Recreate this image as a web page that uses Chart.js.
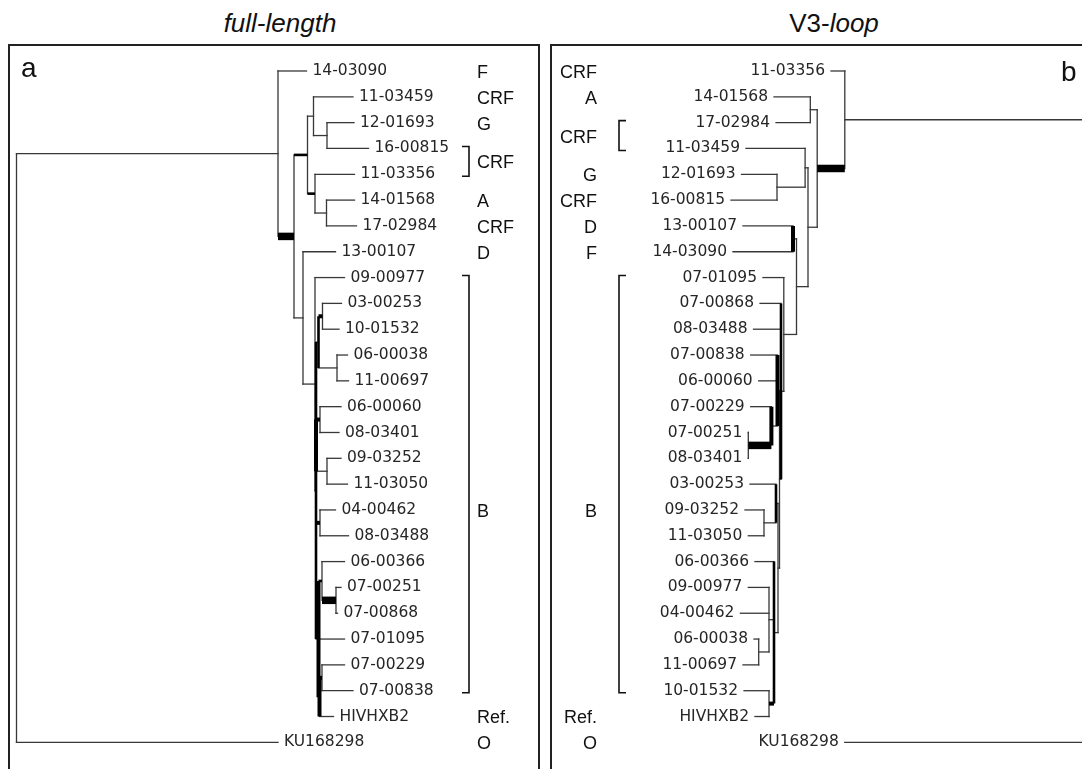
<!DOCTYPE html>
<html>
<head>
<meta charset="utf-8">
<title>full-length / V3-loop trees</title>
<script src="https://cdn.jsdelivr.net/npm/chart.js@4.4.1/dist/chart.umd.min.js"></script>
<style>
  html, body { margin: 0; padding: 0; background: #fff; overflow: hidden; }
  #stage { position: relative; width: 1082px; height: 769px; overflow: hidden; }
  .title { position: absolute; top: 10px; width: 300px; text-align: center; color: #111;
           font: 26px "Liberation Sans", Arial, sans-serif; line-height: 26px; }
  .letter { position: absolute; color: #111; font: 28px "Liberation Sans", Arial, sans-serif; line-height: 28px; }
  .panel { position: absolute; top: 44px; height: 740px; border: 2px solid #222; }
  #panelA { left: 8px; width: 528px; }
  #panelB { left: 550px; width: 566px; }
  .panel canvas { position: absolute; left: 0; top: 0; }
</style>
</head>
<body>
<div id="stage">
  <div class="title" style="left:130px"><i>full-length</i></div>
  <div class="title" style="left:684px">V3-<i>loop</i></div>
  <div class="panel" id="panelA"><canvas id="treeA" width="528" height="740"></canvas></div>
  <div class="panel" id="panelB"><canvas id="treeB" width="566" height="740"></canvas></div>
  <div class="letter" style="left:21px; top:54px">a</div>
  <div class="letter" style="left:1061px; top:58px">b</div>
</div>
<script>
// ---- full-length tree (panel a) ----
// leaves top to bottom, tip depth = distance from root
const fullLeaves = ['14-03090', '11-03459', '12-01693', '16-00815', '11-03356', '14-01568', '17-02984',
  '13-00107', '09-00977', '03-00253', '10-01532', '06-00038', '11-00697', '06-00060', '08-03401',
  '09-03252', '11-03050', '04-00462', '08-03488', '06-00366', '07-00251', '07-00868', '07-01095',
  '07-00229', '07-00838', 'HIVHXB2', 'KU168298'];
const fullTips = [290, 336.5, 337.5, 352, 338, 338, 340,
  319, 328, 325, 322.5, 331, 332, 324.5, 322.5,
  324.5, 331, 319, 332, 328, 324.5, 321, 328,
  328, 336.5, 317, 261.5];
// internal nodes: [depth, children (leaf name or node index), branch support level, connector support level]
const fullNodes = [
  [0, [1, 'KU168298']],
  [261.5, ['14-03090', 2]],
  [277.5, [3, 8], 3],
  [291, [4, 6], 1],
  [297, ['11-03459', 5]],
  [310.5, ['12-01693', '16-00815']],
  [298.5, ['11-03356', 7], 1],
  [310, ['14-01568', '17-02984']],
  [286.5, ['13-00107', 9]],
  [298.5, ['09-00977', 10]],
  [299.5, [11, 14, 17, 18], 0, 1],
  [302, [12, 13], 0, 1],
  [306, ['03-00253', '10-01532'], 2],
  [320.5, ['06-00038', '11-00697']],
  [299.5, [15, 16], 0, 2],
  [303.5, ['06-00060', '08-03401'], 2],
  [310.5, ['09-03252', '11-03050']],
  [303.5, ['04-00462', '08-03488'], 2],
  [302, [19, '07-01095', 21], 0, 2],
  [305.5, ['06-00366', 20], 1],
  [319.5, ['07-00251', '07-00868'], 3],
  [303, [22, 'HIVHXB2'], 0, 2],
  [305.5, ['07-00229', '07-00838'], 2],
];
const fullSubtypes = ['F', 'CRF', 'G', 'CRF', 'A', 'CRF', 'D', 'B', 'Ref.', 'O'];
const fullSubtypeRow = [0, 1, 2, 3.5, 5, 6, 7, 17, 25, 26];
const fullSubtypeFrom = [0, 1, 2, 3, 5, 6, 7, 8, 25, 26];
const fullSubtypeTo = [0, 1, 2, 4, 5, 6, 7, 24, 25, 26];

// ---- V3-loop tree (panel b) ----
const v3Leaves = ['11-03356', '14-01568', '17-02984', '11-03459', '12-01693', '16-00815', '13-00107',
  '14-03090', '07-01095', '07-00868', '08-03488', '07-00838', '06-00060', '07-00229', '07-00251',
  '08-03401', '03-00253', '09-03252', '11-03050', '06-00366', '09-00977', '04-00462', '06-00038',
  '11-00697', '10-01532', 'HIVHXB2', 'KU168298'];
const v3Tips = [277, 334, 332, 362, 366.5, 377, 365,
  375, 345, 348, 354.5, 357.3, 349.3, 357.3, 359.7,
  359.7, 358, 363, 359.7, 353, 359.7, 367.6, 354,
  365, 364, 353, 263.2];
const v3Nodes = [
  [0, [1, 'KU168298']],
  [263.2, ['11-03356', 2]],
  [290.8, [3, 4], 3],
  [297.7, ['14-01568', '17-02984']],
  [300, [5, 7]],
  [302.9, ['11-03459', 6]],
  [331, ['12-01693', '16-00815']],
  [311.5, [8, 9]],
  [315, ['13-00107', '14-03090'], 0, 2],
  [324.2, ['07-01095', 10]],
  [327, ['07-00868', '08-03488', 11], 0, 1],
  [328.5, [12, 15]],
  [330.5, ['07-00838', '06-00060', 13], 0, 2],
  [336.6, ['07-00229', 14], 0, 2],
  [359.7, ['07-00251', '08-03401'], 3],
  [330, [16, 18]],
  [332, ['03-00253', 17], 0, 1],
  [344, ['09-03252', '11-03050']],
  [334, ['06-00366', 19, 21], 0, 1],
  [339, ['09-00977', '04-00462', 20]],
  [349.3, ['06-00038', '11-00697']],
  [339, ['10-01532', 'HIVHXB2'], 2],
];
const v3Subtypes = ['CRF', 'A', 'CRF', 'G', 'CRF', 'D', 'F', 'B', 'Ref.', 'O'];
const v3SubtypeRow = [0, 1, 2.5, 4, 5, 6, 7, 17, 25, 26];
const v3SubtypeFrom = [0, 1, 2, 4, 5, 6, 7, 8, 25, 26];
const v3SubtypeTo = [0, 1, 3, 4, 5, 6, 7, 24, 25, 26];

// support level -> stroke width
const WIDTHS = [1.3, 2.6, 4, 7.5];
const THIN = '#383838';

/**
 * Turns the node table into elbow segments (connector + one branch per child).
 */
const toSegments = (leaves, tips, nodes) => {
  const nodeY = [];
  const rowOf = (name) => leaves.indexOf(name);
  const yOf = (k) => (typeof k === 'string' ? rowOf(k) : placeNode(k));
  const xOf = (k) => (typeof k === 'string' ? tips[rowOf(k)] : nodes[k][0]);
  function placeNode(i) {
    if (nodeY[i] === undefined) {
      const kids = nodes[i][1];
      nodeY[i] = (yOf(kids[0]) + yOf(kids[kids.length - 1])) / 2;
    }
    return nodeY[i];
  }

  const segments = [];
  nodes.forEach(([depth, kids, , bar = 0]) => {
    segments.push({
      points: [{ x: depth, y: yOf(kids[0]) }, { x: depth, y: yOf(kids[kids.length - 1]) }],
      level: bar,
    });
    kids.forEach((k) => {
      segments.push({
        points: [{ x: depth, y: yOf(k) }, { x: xOf(k), y: yOf(k) }],
        level: typeof k === 'string' ? 0 : (nodes[k][2] || 0),
      });
    });
  });
  return segments;
};

const toDatasets = (segments) => segments.map(({ points, level }) => ({
  data: points,
  showLine: true,
  pointRadius: 0,
  borderWidth: WIDTHS[level],
  borderColor: level ? '#000' : THIN,
  borderCapStyle: level ? 'butt' : 'square',
  clip: false,
  order: level ? 0 : 1,
}));

// leaf names, subtype column and brackets, placed through the chart scales
const treeText = {
  id: 'treeText',
  afterDatasetsDraw(chart, args, opts) {
    const { ctx, scales: { x, y } } = chart;
    const dir = opts.labelsRight ? 1 : -1;
    ctx.save();
    ctx.textBaseline = 'middle';

    ctx.font = '15.5px "DejaVu Sans", sans-serif';
    ctx.fillStyle = '#262626';
    ctx.textAlign = dir > 0 ? 'left' : 'right';
    opts.leaves.forEach((name, i) => {
      ctx.fillText(name, x.getPixelForValue(opts.tips[i]) + dir * 6, y.getPixelForValue(i));
    });

    ctx.font = '18px "Liberation Sans", Arial, sans-serif';
    ctx.fillStyle = '#111';
    ctx.textAlign = dir > 0 ? 'left' : 'right';
    opts.subtypes.forEach((label, i) => {
      ctx.fillText(label, opts.subtypeX, y.getPixelForValue(opts.rows[i]) + 2);
    });

    ctx.strokeStyle = '#111';
    ctx.lineWidth = 1.6;
    opts.from.forEach((from, i) => {
      const to = opts.to[i];
      if (from === to) return;
      const top = y.getPixelForValue(from) - 2;
      const bottom = y.getPixelForValue(to) + 2;
      const bx = opts.bracketX;
      const tx = bx - dir * 7;
      ctx.beginPath();
      ctx.moveTo(tx, top);
      ctx.lineTo(bx, top);
      ctx.lineTo(bx, bottom);
      ctx.lineTo(tx, bottom);
      ctx.stroke();
    });
    ctx.restore();
  },
};

const ROWS = { min: -0.968, max: 27.691 };

const renderTree = (canvasId, tree, xRange, text) => new Chart(document.getElementById(canvasId), {
  type: 'scatter',
  data: { datasets: toDatasets(toSegments(tree.leaves, tree.tips, tree.nodes)) },
  options: {
    responsive: false,
    animation: false,
    events: [],
    layout: { padding: 0 },
    plugins: {
      legend: { display: false },
      tooltip: { enabled: false },
      treeText: { leaves: tree.leaves, tips: tree.tips, ...text },
    },
    scales: {
      x: { type: 'linear', display: false, ...xRange },
      y: { type: 'linear', display: false, reverse: true, ...ROWS },
    },
  },
  plugins: [treeText],
});

renderTree('treeA', { leaves: fullLeaves, tips: fullTips, nodes: fullNodes },
  { min: -6.5, max: 521.5 },
  {
    labelsRight: true, subtypes: fullSubtypes, rows: fullSubtypeRow,
    from: fullSubtypeFrom, to: fullSubtypeTo, subtypeX: 467, bracketX: 459,
  });

renderTree('treeB', { leaves: v3Leaves, tips: v3Tips, nodes: v3Nodes },
  { min: -10, max: 556, reverse: true },
  {
    labelsRight: false, subtypes: v3Subtypes, rows: v3SubtypeRow,
    from: v3SubtypeFrom, to: v3SubtypeTo, subtypeX: 45, bracketX: 67,
  });
</script>
</body>
</html>
